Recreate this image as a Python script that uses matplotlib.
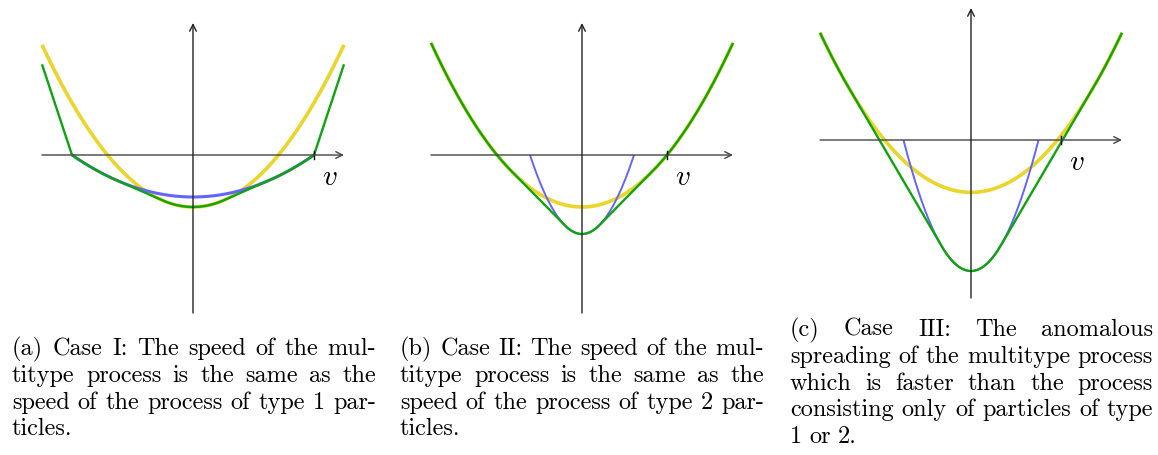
import numpy as np
import matplotlib
matplotlib.use("Agg")
from matplotlib import pyplot as plt

plt.rcParams['mathtext.fontset'] = 'cm'

W, H = 1158, 455

# panel data, in picture units (1 unit = 1 px), origin at the axes crossing
panels = ["a", "b", "c"]
origins = [(193, 155), (582, 155), (971, 140)]
yellow_depth = [52, 52, 52.4]     # yellow parabola value at v = 0 (below axis)
yellow_zero = [85.5, 85, 86.5]    # where yellow crosses the v axis
blue_depth = [42, 79, 131]
blue_zero = [121, 52, 67.5]       # blue is drawn only between its zeros
green_edge = [90.7, None, None]   # green value at the plot edge (None: follows yellow)
speed_tick = [121, 85, 90]
v_edge = 151

captions = [
    ["(a) Case I: The speed of the mul-",
     "titype process is the same as the",
     "speed of the process of type 1 par-",
     "ticles."],
    ["(b) Case II: The speed of the mul-",
     "titype process is the same as the",
     "speed of the process of type 2 par-",
     "ticles."],
    ["(c) Case III: The anomalous",
     "spreading of the multitype process",
     "which is faster than the process",
     "consisting only of particles of type",
     "1 or 2."],
]
caption_left = [12, 400, 790]
caption_right = [376, 764, 1153]
caption_top = [355, 355, 336]
line_step = 26.8

YELLOW = '#E9D52C'
BLUE = '#6464FF'
GREEN = '#0FA30F'


def parabola(v, depth, zero):
    return depth / zero ** 2 * v ** 2 - depth


def lower_hull(xs, ys):
    pts = sorted(zip(xs, ys))
    hull = []
    for p in pts:
        while len(hull) >= 2:
            (x1, y1), (x2, y2) = hull[-2], hull[-1]
            if (x2 - x1) * (p[1] - y1) - (y2 - y1) * (p[0] - x1) <= 0:
                hull.pop()
            else:
                break
        hull.append(p)
    return np.array(hull)


fig = plt.figure(figsize=(W / 100, H / 100), dpi=100)

for i, name in enumerate(panels):
    ox, oy = origins[i]
    left, right, up, down = 160, 165, 140, 165
    ax = fig.add_axes([(ox - left) / W, (H - oy - down) / H,
                       (left + right) / W, (up + down) / H])
    ax.set_xlim(-left, right)
    ax.set_ylim(-down, up)
    ax.axis('off')

    # axes with arrows
    ax.annotate('', xy=(v_edge, 0), xytext=(-v_edge, 0),
                arrowprops=dict(arrowstyle='->', color='#444444', lw=1.0,
                                shrinkA=0, shrinkB=0, mutation_scale=12))
    ax.annotate('', xy=(0, 132), xytext=(0, -158),
                arrowprops=dict(arrowstyle='->', color='#222222', lw=1.0,
                                shrinkA=0, shrinkB=0, mutation_scale=12))

    v = np.linspace(-v_edge, v_edge, 1201)
    yel = parabola(v, yellow_depth[i], yellow_zero[i])
    vb = np.linspace(-blue_zero[i], blue_zero[i], 801)
    blu = parabola(vb, blue_depth[i], blue_zero[i])

    # green: lower convex envelope of the two curves
    if green_edge[i] is not None:
        xs = list(v[1:-1]) + list(vb) + [-v_edge, v_edge]
        ys = list(yel[1:-1]) + list(blu) + [green_edge[i], green_edge[i]]
    else:
        xs = list(v) + list(vb)
        ys = list(yel) + list(blu)
    hull = lower_hull(xs, ys)

    ax.plot(v, yel, color=YELLOW, lw=2.6, solid_capstyle='butt')
    ax.plot(vb, blu, color=BLUE, lw=2.2 if i == 0 else 1.4, solid_capstyle='butt')
    ax.plot(hull[:, 0], hull[:, 1], color=GREEN, lw=1.7, solid_capstyle='butt')

    t = speed_tick[i]
    ax.plot([t, t], [-4, 4], color='black', lw=1.0)
    ax.text(t + 16, -22, r'$v$', fontsize=21, ha='center', va='center')

# justified captions
renderer = fig.canvas.get_renderer()
for i, lines in enumerate(captions):
    for j, line in enumerate(lines):
        y = 1 - (caption_top[i] + j * line_step) / H
        words = line.split(' ')
        objs = [fig.text(0, y, w, fontsize=17.5, family='cmr10', va='baseline')
                for w in words]
        widths = [o.get_window_extent(renderer).width for o in objs]
        span = caption_right[i] - caption_left[i]
        if j < len(lines) - 1 and len(words) > 1:
            gap = (span - sum(widths)) / (len(words) - 1)
        else:
            gap = 7.0
        x = caption_left[i]
        for o, w in zip(objs, widths):
            o.set_x(x / W)
            x += w + gap

fig.savefig('out.png', dpi=100)
